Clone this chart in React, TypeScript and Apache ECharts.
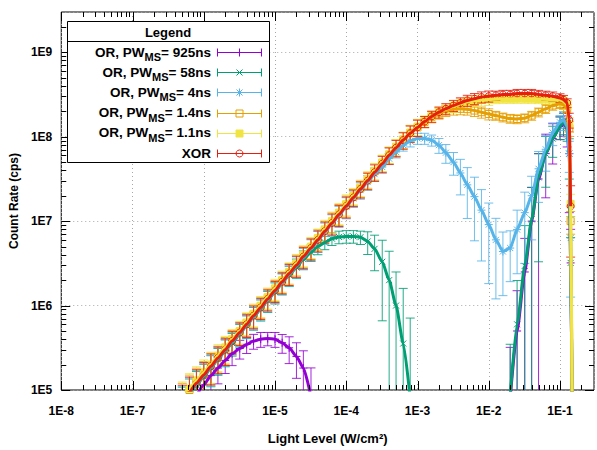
import React, { useEffect, useRef } from 'react';
import * as echarts from 'echarts';

// Light level samples (W/cm^2), shared by all series
const LIGHT = [
  4.0e-7, 5.0e-7, 6.3e-7, 7.9e-7, 1.0e-6, 1.26e-6, 1.58e-6, 2.0e-6, 2.5e-6, 3.2e-6,
  4.0e-6, 5.0e-6, 6.3e-6, 7.9e-6, 1.0e-5, 1.26e-5, 1.58e-5, 2.0e-5, 2.5e-5, 3.2e-5,
  4.0e-5, 5.0e-5, 6.3e-5, 7.9e-5, 1.0e-4, 1.26e-4, 1.58e-4, 2.0e-4, 2.5e-4, 3.2e-4,
  4.0e-4, 5.0e-4, 6.3e-4, 7.9e-4, 1.0e-3, 1.26e-3, 1.58e-3, 2.0e-3, 2.5e-3, 3.2e-3,
  4.0e-3, 5.0e-3, 6.3e-3, 7.9e-3, 1.0e-2, 1.26e-2, 1.58e-2, 2.0e-2, 2.5e-2, 3.2e-2,
  4.0e-2, 5.0e-2, 6.3e-2, 7.9e-2, 0.1, 0.112, 0.126, 0.135, 0.141, 0.148,
];

// Count rates (cps); null = not on chart
const OR_925NS = [
  null, null, null, 8.5e4, 1.15e5, 1.48e5, 1.82e5, 2.24e5, 2.7e5, 3.1e5,
  3.47e5, 3.8e5, 4.0e5, 4.07e5, 4.0e5, 3.63e5, 3.16e5, 2.5e5, 1.82e5, 8.3e4,
  null, null, null, null, null, null, null, null, null, null,
  null, null, null, null, null, null, null, null, null, null,
  null, null, null, null, null, null, null, 8.0e4, 5.0e5, 2.5e6,
  1.0e7, 3.16e7, 6.3e7, 9.5e7, 1.32e8, 1.45e8, 1.26e8, 6.3e7, 3.2e6, 6.3e4,
];
const OR_925NS_ERR = [
  0, 0, 0, 0.5, 0.45, 0.4, 0.35, 0.3, 0.28, 0.25,
  0.22, 0.2, 0.2, 0.18, 0.2, 0.25, 0.35, 0.45, 0.6, 1.2,
  0, 0, 0, 0, 0, 0, 0, 0, 0, 0,
  0, 0, 0, 0, 0, 0, 0, 0, 0, 0,
  0, 0, 0, 0, 0, 0, 0, 3, 2, 1.5,
  1.5, 1.0, 0.7, 0.5, 0.3, 0.3, 0.4, 0.8, 1.5, 0,
];

const OR_58NS = [
  null, 7.2e4, 9.0e4, 1.14e5, 1.44e5, 1.82e5, 2.3e5, 2.9e5, 3.6e5, 4.6e5,
  5.8e5, 7.3e5, 9.1e5, 1.15e6, 1.45e6, 1.86e6, 2.3e6, 2.82e6, 3.55e6, 4.27e6,
  5.0e6, 5.6e6, 6.2e6, 6.5e6, 6.6e6, 6.6e6, 6.45e6, 5.75e6, 4.7e6, 3.3e6,
  2.0e6, 1.0e6, 3.55e5, 7.9e4, null, null, null, null, null, null,
  null, null, null, null, null, null, null, 8.7e4, 6.0e5, 2.95e6,
  1.05e7, 3.3e7, 6.3e7, 9.5e7, 1.32e8, 1.51e8, 1.26e8, 6.3e7, 3.2e6, 6.3e4,
];
const OR_58NS_ERR = [
  0, 0.5, 0.5, 0.45, 0.4, 0.4, 0.35, 0.35, 0.3, 0.3,
  0.3, 0.3, 0.28, 0.28, 0.28, 0.28, 0.27, 0.26, 0.25, 0.22,
  0.2, 0.18, 0.17, 0.17, 0.17, 0.17, 0.18, 0.3, 0.45, 0.8,
  1.2, 1.5, 3.5, 8, 0, 0, 0, 0, 0, 0,
  0, 0, 0, 0, 0, 0, 0, 3, 2.3, 2,
  1.4, 0.9, 0.6, 0.4, 0.3, 0.3, 0.3, 0.5, 1, 0,
];

const OR_4NS = [
  null, 7.4e4, 9.3e4, 1.17e5, 1.48e5, 1.86e5, 2.35e5, 2.95e5, 3.7e5, 4.7e5,
  5.9e5, 7.4e5, 9.3e5, 1.17e6, 1.48e6, 1.86e6, 2.35e6, 2.95e6, 3.7e6, 4.7e6,
  5.9e6, 7.4e6, 9.3e6, 1.17e7, 1.48e7, 1.86e7, 2.33e7, 2.9e7, 3.6e7, 4.37e7,
  5.5e7, 6.6e7, 7.94e7, 8.9e7, 9.55e7, 9.55e7, 9.1e7, 7.94e7, 6.46e7, 5.0e7,
  3.72e7, 2.69e7, 1.95e7, 1.35e7, 9.1e6, 6.0e6, 4.37e6, 4.8e6, 7.94e6, 1.26e7,
  2.0e7, 4.17e7, 7.1e7, 1.12e8, 1.48e8, 1.58e8, 1.32e8, 6.3e7, 6.3e6, 6.3e4,
];
const OR_4NS_ERR = [
  0, 0.5, 0.5, 0.45, 0.4, 0.4, 0.35, 0.35, 0.3, 0.3,
  0.3, 0.3, 0.28, 0.28, 0.28, 0.28, 0.28, 0.28, 0.28, 0.28,
  0.28, 0.28, 0.28, 0.28, 0.28, 0.22, 0.22, 0.2, 0.18, 0.15,
  0.15, 0.15, 0.15, 0.15, 0.15, 0.15, 0.15, 0.2, 0.25, 0.3,
  0.45, 0.6, 0.7, 0.75, 0.8, 0.8, 0.7, 0.6, 0.7, 0.75,
  0.7, 0.6, 0.45, 0.3, 0.2, 0.2, 0.25, 0.4, 0.8, 0,
];

const OR_1_4NS = [
  null, 8.0e4, 1.0e5, 1.25e5, 1.55e5, 1.95e5, 2.45e5, 3.1e5, 3.9e5, 4.9e5,
  6.2e5, 7.8e5, 9.8e5, 1.23e6, 1.55e6, 1.95e6, 2.45e6, 3.1e6, 3.9e6, 4.9e6,
  6.2e6, 7.8e6, 9.8e6, 1.23e7, 1.55e7, 1.95e7, 2.45e7, 3.1e7, 3.9e7, 4.9e7,
  6.1e7, 7.5e7, 9.2e7, 1.1e8, 1.29e8, 1.5e8, 1.72e8, 1.9e8, 2.04e8, 2.12e8,
  2.14e8, 2.12e8, 2.04e8, 1.95e8, 1.86e8, 1.78e8, 1.7e8, 1.64e8, 1.62e8, 1.66e8,
  1.78e8, 1.95e8, 2.14e8, 2.34e8, 2.45e8, 2.4e8, 2.14e8, 1.26e8, 1.0e7, 6.3e4,
];
const OR_1_4NS_ERR = [
  0, 0.5, 0.5, 0.45, 0.4, 0.4, 0.35, 0.35, 0.3, 0.3,
  0.3, 0.3, 0.28, 0.28, 0.28, 0.28, 0.28, 0.28, 0.28, 0.28,
  0.28, 0.28, 0.28, 0.28, 0.28, 0.22, 0.22, 0.22, 0.22, 0.22,
  0.22, 0.22, 0.22, 0.22, 0.22, 0.15, 0.15, 0.15, 0.15, 0.15,
  0.15, 0.15, 0.15, 0.15, 0.15, 0.12, 0.12, 0.12, 0.12, 0.12,
  0.12, 0.12, 0.12, 0.12, 0.12, 0.12, 0.12, 0.2, 0.3, 0,
];

const OR_1_1NS = [
  null, 8.3e4, 1.04e5, 1.3e5, 1.62e5, 2.0e5, 2.55e5, 3.2e5, 4.0e5, 5.0e5,
  6.3e5, 8.0e5, 1.0e6, 1.26e6, 1.6e6, 2.0e6, 2.5e6, 3.15e6, 4.0e6, 5.0e6,
  6.3e6, 8.0e6, 1.0e7, 1.26e7, 1.6e7, 2.0e7, 2.5e7, 3.15e7, 3.95e7, 4.95e7,
  6.2e7, 7.6e7, 9.3e7, 1.12e8, 1.32e8, 1.53e8, 1.75e8, 1.95e8, 2.12e8, 2.3e8,
  2.45e8, 2.57e8, 2.66e8, 2.72e8, 2.76e8, 2.8e8, 2.82e8, 2.82e8, 2.82e8, 2.82e8,
  2.82e8, 2.8e8, 2.78e8, 2.75e8, 2.72e8, 2.62e8, 2.4e8, 1.4e8, 1.6e7, 6.3e4,
];
const OR_1_1NS_ERR = [
  0, 0.5, 0.5, 0.45, 0.4, 0.4, 0.35, 0.35, 0.3, 0.3,
  0.3, 0.3, 0.28, 0.28, 0.28, 0.28, 0.28, 0.28, 0.28, 0.28,
  0.28, 0.28, 0.28, 0.28, 0.28, 0.22, 0.22, 0.22, 0.22, 0.22,
  0.22, 0.22, 0.22, 0.22, 0.22, 0.15, 0.15, 0.15, 0.15, 0.15,
  0.15, 0.15, 0.15, 0.15, 0.15, 0.12, 0.12, 0.12, 0.12, 0.12,
  0.12, 0.12, 0.12, 0.12, 0.12, 0.12, 0.12, 0.2, 0.3, 0,
];

const XOR = [
  null, 7.6e4, 9.5e4, 1.2e5, 1.51e5, 1.91e5, 2.4e5, 3.0e5, 3.8e5, 4.8e5,
  6.0e5, 7.6e5, 9.5e5, 1.2e6, 1.51e6, 1.91e6, 2.4e6, 3.0e6, 3.8e6, 4.8e6,
  6.0e6, 7.6e6, 9.5e6, 1.2e7, 1.51e7, 1.91e7, 2.4e7, 3.02e7, 3.8e7, 4.79e7,
  6.03e7, 7.41e7, 9.12e7, 1.1e8, 1.29e8, 1.51e8, 1.74e8, 1.95e8, 2.14e8, 2.34e8,
  2.51e8, 2.69e8, 2.82e8, 2.95e8, 3.02e8, 3.09e8, 3.16e8, 3.16e8, 3.24e8, 3.24e8,
  3.24e8, 3.16e8, 3.09e8, 3.02e8, 2.88e8, 2.75e8, 2.51e8, 1.58e8, 1.5e7, null,
];
const XOR_ERR = [
  0, 0.5, 0.5, 0.45, 0.4, 0.4, 0.35, 0.35, 0.3, 0.3,
  0.3, 0.3, 0.28, 0.28, 0.28, 0.28, 0.28, 0.28, 0.28, 0.28,
  0.28, 0.28, 0.28, 0.28, 0.28, 0.22, 0.22, 0.22, 0.22, 0.22,
  0.22, 0.22, 0.22, 0.22, 0.22, 0.15, 0.15, 0.15, 0.15, 0.15,
  0.15, 0.15, 0.15, 0.15, 0.15, 0.12, 0.12, 0.12, 0.12, 0.12,
  0.12, 0.12, 0.12, 0.12, 0.12, 0.12, 0.12, 0.2, 0.75, 0,
];

const LEGEND_TITLE = 'Legend';
const LEGEND_LABELS = [
  ['OR, PW', 'MS', '= 925ns'],
  ['OR, PW', 'MS', '= 58ns'],
  ['OR, PW', 'MS', '= 4ns'],
  ['OR, PW', 'MS', '= 1.4ns'],
  ['OR, PW', 'MS', '= 1.1ns'],
  ['XOR', '', ''],
];

const X_NAME = 'Light Level (W/cm²)';
const Y_NAME = 'Count Rate (cps)';
const XMIN = 1e-8;
const XMAX = 0.3;
const YMIN = 1e5;
const YMAX = 3e9;

const FONT_FAMILY = '"Liberation Sans", Arial, Helvetica, sans-serif';

type MarkerKind = 'plus' | 'cross' | 'star' | 'square' | 'fsquare' | 'circle';

const DATASETS: { color: string; marker: MarkerKind; y: (number | null)[]; err: number[] }[] = [
  { color: '#9400d3', marker: 'plus', y: OR_925NS, err: OR_925NS_ERR },
  { color: '#009e73', marker: 'cross', y: OR_58NS, err: OR_58NS_ERR },
  { color: '#56b4e9', marker: 'star', y: OR_4NS, err: OR_4NS_ERR },
  { color: '#e69f00', marker: 'square', y: OR_1_4NS, err: OR_1_4NS_ERR },
  { color: '#f0e442', marker: 'fsquare', y: OR_1_1NS, err: OR_1_1NS_ERR },
  { color: '#e51e10', marker: 'circle', y: XOR, err: XOR_ERR },
];

function markerEls(m: MarkerKind, cx: number, cy: number, color: string, z?: number): any[] {
  const s = { stroke: color, lineWidth: 1, fill: 'none' };
  const L = (x1: number, y1: number, x2: number, y2: number) => ({
    type: 'line', z, shape: { x1, y1, x2, y2 }, style: s,
  });
  switch (m) {
    case 'plus':
      return [L(cx - 4, cy, cx + 4, cy), L(cx, cy - 4, cx, cy + 4)];
    case 'cross':
      return [L(cx - 3, cy - 3, cx + 3, cy + 3), L(cx - 3, cy + 3, cx + 3, cy - 3)];
    case 'star':
      return [
        L(cx - 4, cy, cx + 4, cy), L(cx, cy - 4, cx, cy + 4),
        L(cx - 3, cy - 3, cx + 3, cy + 3), L(cx - 3, cy + 3, cx + 3, cy - 3),
      ];
    case 'square':
      return [{ type: 'rect', z, shape: { x: cx - 3.5, y: cy - 3.5, width: 7, height: 7 }, style: s }];
    case 'fsquare':
      return [{ type: 'rect', z, shape: { x: cx - 3.5, y: cy - 3.5, width: 7, height: 7 }, style: { fill: color, stroke: color, lineWidth: 1 } }];
    case 'circle':
    default:
      return [{ type: 'circle', z, shape: { cx, cy, r: 3.5 }, style: s }];
  }
}

function makeErrRender(color: string, marker: MarkerKind) {
  return (params: any, api: any) => {
    const x = api.value(0);
    const y = api.value(1);
    const r = api.value(2);
    const cs = params.coordSys;
    const top = cs.y;
    const bottom = cs.y + cs.height;
    const pc = api.coord([x, y]);
    const px = pc[0];
    const hi = y * (1 + r);
    const lo = r >= 1 ? 0 : y * (1 - r);
    const yHi = api.coord([x, hi])[1];
    const yLo = lo > 0 ? api.coord([x, lo])[1] : bottom + 100;
    const children: any[] = [];
    const st = { stroke: color, lineWidth: 1, opacity: 0.85 };
    const y1 = Math.max(yHi, top);
    const y2 = Math.min(yLo, bottom);
    if (y1 < y2) {
      children.push({ type: 'line', shape: { x1: px, y1, x2: px, y2 }, style: st });
      if (yHi >= top && yHi <= bottom) {
        children.push({ type: 'line', shape: { x1: px - 4.5, y1: yHi, x2: px + 4.5, y2: yHi }, style: st });
      }
      if (yLo >= top && yLo <= bottom) {
        children.push({ type: 'line', shape: { x1: px - 4.5, y1: yLo, x2: px + 4.5, y2: yLo }, style: st });
      }
    }
    if (pc[1] >= top && pc[1] <= bottom) {
      children.push(...markerEls(marker, px, pc[1], color));
    }
    return { type: 'group', children };
  };
}

function labelFmt(v: number) {
  const e = Math.log10(v);
  const r = Math.round(e);
  return Math.abs(e - r) < 1e-6 ? '1E' + r : '';
}

function measure(text: string, font: string): number {
  const c = document.createElement('canvas').getContext('2d');
  if (!c) return text.length * 7;
  c.font = font;
  return c.measureText(text).width;
}

export default function App() {
  const ref = useRef<HTMLDivElement>(null);

  useEffect(() => {
    if (!ref.current) return;
    const chart = echarts.init(ref.current, undefined, { renderer: 'svg' });

    // tick marks (major + log minor) on all four sides
    const tickData: number[][] = [];
    for (let e = -8; e <= -1; e++) {
      for (let m = 1; m <= 9; m++) {
        const v = m * Math.pow(10, e);
        if (v < XMAX * 0.999) tickData.push([v, 1e7, 0, m === 1 ? 1 : 0]);
      }
    }
    for (let e = 5; e <= 9; e++) {
      for (let m = 1; m <= 9; m++) {
        const v = m * Math.pow(10, e);
        if (v < YMAX * 0.999) tickData.push([1e-4, v, 1, m === 1 ? 1 : 0]);
      }
    }

    const series: any[] = [];
    DATASETS.forEach((d) => {
      series.push({
        type: 'line',
        data: LIGHT.map((x, i) => [x, d.y[i] == null ? '-' : d.y[i]]),
        showSymbol: false,
        smooth: 0.2,
        smoothMonotone: 'x',
        connectNulls: false,
        clip: true,
        lineStyle: { color: d.color, width: 3 },
        itemStyle: { color: d.color },
        silent: true,
      });
      const pts: number[][] = [];
      LIGHT.forEach((x, i) => {
        const yv = d.y[i];
        if (yv != null) pts.push([x, yv, d.err[i]]);
      });
      series.push({
        type: 'custom',
        data: pts,
        encode: { x: 0, y: 1 },
        renderItem: makeErrRender(d.color, d.marker),
        silent: true,
      });
    });

    series.push({
      type: 'custom',
      data: tickData,
      encode: { x: 0, y: 1 },
      z: 10,
      silent: true,
      renderItem: (params: any, api: any) => {
        const cs = params.coordSys;
        const kind = api.value(2);
        const len = api.value(3) ? 9 : 5;
        const st = { stroke: '#000', lineWidth: 1 };
        if (kind === 0) {
          const x = Math.round(api.coord([api.value(0), 1e7])[0]) + 0.5;
          const b = cs.y + cs.height;
          const t = cs.y;
          return {
            type: 'group',
            children: [
              { type: 'line', shape: { x1: x, y1: b, x2: x, y2: b - len }, style: st },
              { type: 'line', shape: { x1: x, y1: t, x2: x, y2: t + len }, style: st },
            ],
          };
        }
        const y = Math.round(api.coord([1e-4, api.value(1)])[1]) + 0.5;
        const l = cs.x;
        const rr = cs.x + cs.width;
        return {
          type: 'group',
          children: [
            { type: 'line', shape: { x1: l, y1: y, x2: l + len, y2: y }, style: st },
            { type: 'line', shape: { x1: rr, y1: y, x2: rr - len, y2: y }, style: st },
          ],
        };
      },
    });

    // Legend drawn as graphics
    const LZ = 100;
    const fontMain = 'bold 13.5px ' + FONT_FAMILY;
    const fontTitle = 'bold 13px ' + FONT_FAMILY;
    const fontSub = 'bold 11px ' + FONT_FAMILY;
    const graphic: any[] = [
      { type: 'rect', z: LZ, shape: { x: 67.5, y: 21.5, width: 202, height: 141 }, style: { fill: '#fff', stroke: '#000', lineWidth: 1 } },
      { type: 'line', z: LZ, shape: { x1: 67.5, y1: 41.5, x2: 269.5, y2: 41.5 }, style: { stroke: '#000', lineWidth: 1 } },
      { type: 'text', z: LZ, x: 168, y: 32, style: { text: LEGEND_TITLE, font: fontTitle, fill: '#000', align: 'center', verticalAlign: 'middle' } },
    ];
    LEGEND_LABELS.forEach((parts, i) => {
      const rowY = 52 + i * 20.2;
      const xr = 211;
      const w3 = parts[2] ? measure(parts[2], fontMain) : 0;
      const w2 = parts[1] ? measure(parts[1], fontSub) : 0;
      if (parts[2]) {
        graphic.push({ type: 'text', z: LZ, x: xr, y: rowY, style: { text: parts[2], font: fontMain, fill: '#000', align: 'right', verticalAlign: 'middle' } });
      }
      if (parts[1]) {
        graphic.push({ type: 'text', z: LZ, x: xr - w3, y: rowY + 5, style: { text: parts[1], font: fontSub, fill: '#000', align: 'right', verticalAlign: 'middle' } });
      }
      graphic.push({ type: 'text', z: LZ, x: xr - w3 - w2, y: rowY, style: { text: parts[0], font: fontMain, fill: '#000', align: 'right', verticalAlign: 'middle' } });
      const d = DATASETS[i];
      const ly = Math.round(rowY) + 0.5;
      const st = { stroke: d.color, lineWidth: 1 };
      graphic.push({ type: 'line', z: LZ, shape: { x1: 217.5, y1: ly, x2: 261.5, y2: ly }, style: st });
      graphic.push({ type: 'line', z: LZ, shape: { x1: 217.5, y1: ly - 4, x2: 217.5, y2: ly + 4 }, style: st });
      graphic.push({ type: 'line', z: LZ, shape: { x1: 261.5, y1: ly - 4, x2: 261.5, y2: ly + 4 }, style: st });
      graphic.push(...markerEls(d.marker, 239.5, ly, d.color, LZ));
    });

    const axisLabelStyle = { color: '#000', fontWeight: 'bold', fontSize: 12, fontFamily: FONT_FAMILY };
    const gridLine = { show: true, lineStyle: { color: '#a8a8a8', type: [1, 3], width: 1 } };

    chart.setOption({
      animation: false,
      backgroundColor: '#ffffff',
      grid: {
        left: 57, top: 12, width: 541, height: 379,
        show: true, borderColor: '#000', borderWidth: 1, backgroundColor: 'transparent',
      },
      xAxis: {
        type: 'log', logBase: 10, min: XMIN, max: XMAX, splitNumber: 8,
        name: X_NAME, nameLocation: 'middle', nameGap: 42,
        nameTextStyle: { color: '#000', fontWeight: 'bold', fontSize: 13, fontFamily: FONT_FAMILY },
        axisLine: { show: false }, axisTick: { show: false },
        axisLabel: { ...axisLabelStyle, margin: 15, formatter: labelFmt, showMinLabel: true, showMaxLabel: true, hideOverlap: false },
        splitLine: gridLine,
      },
      yAxis: {
        type: 'log', logBase: 10, min: YMIN, max: YMAX, splitNumber: 5,
        name: Y_NAME, nameLocation: 'middle', nameGap: 38,
        nameTextStyle: { color: '#000', fontWeight: 'bold', fontSize: 12, fontFamily: FONT_FAMILY },
        axisLine: { show: false }, axisTick: { show: false },
        axisLabel: { ...axisLabelStyle, margin: 9, formatter: labelFmt, showMinLabel: true, showMaxLabel: true },
        splitLine: gridLine,
      },
      series,
      graphic,
    });

    return () => chart.dispose();
  }, []);

  return (
    <div
      ref={ref}
      style={{ position: 'fixed', left: 0, top: 0, width: 597, height: 450, background: '#fff' }}
    />
  );
}
